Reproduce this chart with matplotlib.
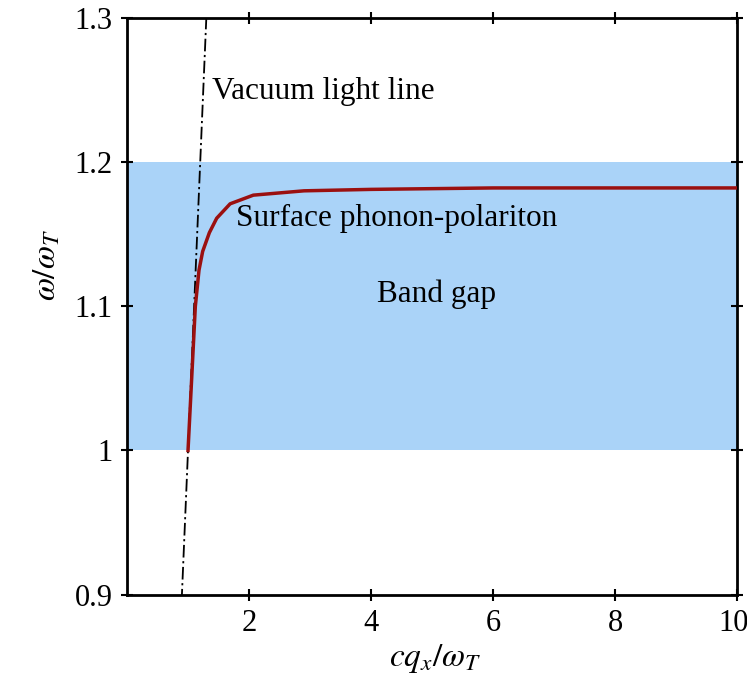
import numpy as np
import matplotlib.pyplot as plt
import matplotlib.transforms as mtransforms
from matplotlib.ticker import FormatStrFormatter

plt.rcParams['font.family'] = ['Liberation Serif', 'DejaVu Serif']
plt.rcParams['mathtext.fontset'] = 'stix'

# band gap limits (omega / omega_T)
gap_low, gap_high = 1.0, 1.2

# vacuum light line omega = c q
light_x = [0.88, 1.32]
light_y = [0.88, 1.32]

# surface phonon-polariton branch
spp_x = [1.0, 1.06, 1.12, 1.18, 1.24, 1.35, 1.47, 1.69, 2.07, 2.9, 4.0, 6.0, 8.0, 10.0]
spp_y = [1.0, 1.05, 1.10, 1.125, 1.138, 1.151, 1.161, 1.171, 1.177, 1.180, 1.181, 1.182, 1.182, 1.182]

xticks = [2, 4, 6, 8, 10]
yticks = [0.9, 1.0, 1.1, 1.2, 1.3]

fig = plt.figure(figsize=(7.47, 6.82), dpi=100)
ax = fig.add_axes([0.170, 0.128, 0.817, 0.846])

ax.axhspan(gap_low, gap_high, color='#aad3f8', lw=0, zorder=0)
ax.plot(light_x, light_y, color='black', lw=1.3, ls=(0, (7, 2, 1.2, 2)), zorder=2)
ax.plot(spp_x, spp_y, color='#9b1010', lw=2.5, zorder=3)

ax.text(1.40, 1.249, 'Vacuum light line', fontsize=22.5, va='center')
ax.text(1.79, 1.161, 'Surface phonon-polariton', fontsize=22.5, va='center')
ax.text(5.07, 1.108, 'Band gap', fontsize=22.5, va='center', ha='center')

ax.set_xlim(0, 10)
ax.set_ylim(0.9, 1.3)
ax.set_xticks(xticks)
ax.set_yticks(yticks)
ax.yaxis.set_major_formatter(FormatStrFormatter('%g'))
ax.tick_params(direction='inout', length=9, width=1.5, labelsize=22,
               top=True, right=True, pad=6)
for s in ax.spines.values():
    s.set_linewidth(2)

# nudge the last x tick label so it stays inside the figure
last = ax.get_xticklabels()[-1]
last.set_transform(last.get_transform() + mtransforms.ScaledTranslation(-4 / 100, 0, fig.dpi_scale_trans))

ax.set_xlabel(r'$cq_x/\omega_T$', fontsize=24)
ax.set_ylabel(r'$\omega/\omega_T$', fontsize=24)
ax.xaxis.set_label_coords(0.505, -0.082)
ax.yaxis.set_label_coords(-0.105, 0.572)

fig.savefig('out.png', dpi=100)
